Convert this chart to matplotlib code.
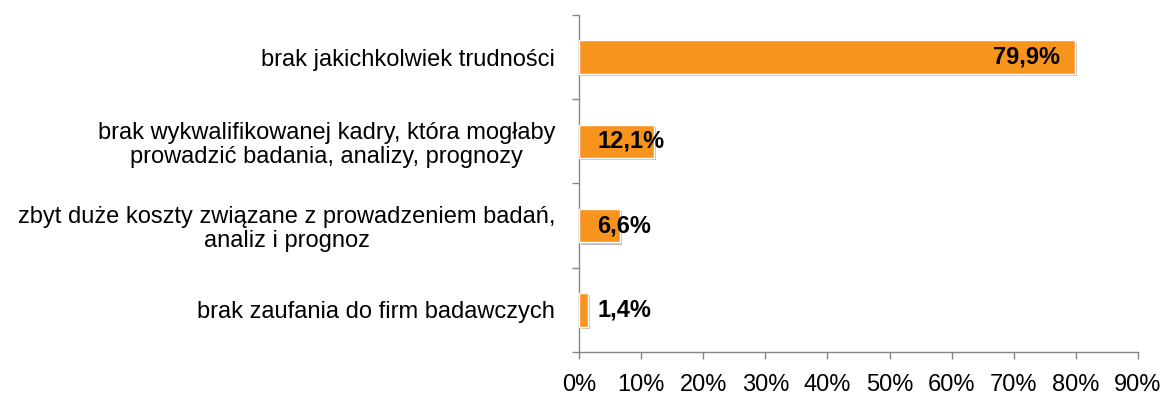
import matplotlib
matplotlib.use("Agg")
import matplotlib.pyplot as plt
import matplotlib.patheffects as pe
import numpy as np

categories = [
    "brak jakichkolwiek trudności",
    "brak wykwalifikowanej kadry, która mogłaby\nprowadzić badania, analizy, prognozy",
    "zbyt duże koszty związane z prowadzeniem badań,\nanaliz i prognoz",
    "brak zaufania do firm badawczych",
]
values = [79.9, 12.1, 6.6, 1.4]
value_labels = ["79,9%", "12,1%", "6,6%", "1,4%"]
xticks = [0, 10, 20, 30, 40, 50, 60, 70, 80, 90]
xtick_labels = [f"{t}%" for t in xticks]

plt.rcParams['font.family'] = ['Liberation Sans', 'DejaVu Sans']

fig = plt.figure(figsize=(11.64, 4.01), dpi=100)
ax = fig.add_axes([0.4974, 0.1222, 0.4803, 0.8404])

bar_color = "#F7941E"
axis_color = "#868686"
y = np.arange(len(categories))
bars = ax.barh(y, values, height=0.4, color=bar_color, edgecolor="white", linewidth=1.0, zorder=3)
for b in bars:
    b.set_path_effects([pe.SimplePatchShadow(offset=(1.5, -1.5), shadow_rgbFace=(0.5, 0.5, 0.5), alpha=0.5), pe.Normal()])

ax.set_xlim(0, 90)
ax.set_ylim(len(categories) - 0.5, -0.5)

ax.set_xticks(xticks)
ax.set_xticklabels(xtick_labels, fontsize=17)
ax.set_yticks(y)
ax.set_yticklabels(categories, fontsize=17, multialignment="center", linespacing=1.1)
ax.tick_params(axis="y", which="major", length=0, pad=17)
ax.set_yticks(np.arange(-0.5, len(categories), 1.0), minor=True)
ax.tick_params(axis="y", which="minor", length=5, color=axis_color, width=1)
ax.tick_params(axis="x", which="major", length=5, color=axis_color, width=1, pad=11)

for s in ["top", "right"]:
    ax.spines[s].set_visible(False)
for s in ["left", "bottom"]:
    ax.spines[s].set_color(axis_color)
    ax.spines[s].set_linewidth(1.0)

for i, (v, lab) in enumerate(zip(values, value_labels)):
    if v > 40:
        ax.annotate(lab, xy=(v, i), xytext=(-11, 0), textcoords="offset points",
                    ha="right", va="center", fontsize=17, fontweight="bold", zorder=5)
    else:
        ax.annotate(lab, xy=(0, i), xytext=(13, 0), textcoords="offset points",
                    ha="left", va="center", fontsize=17, fontweight="bold", zorder=5)

fig.savefig("out.png", dpi=100, facecolor="white")
